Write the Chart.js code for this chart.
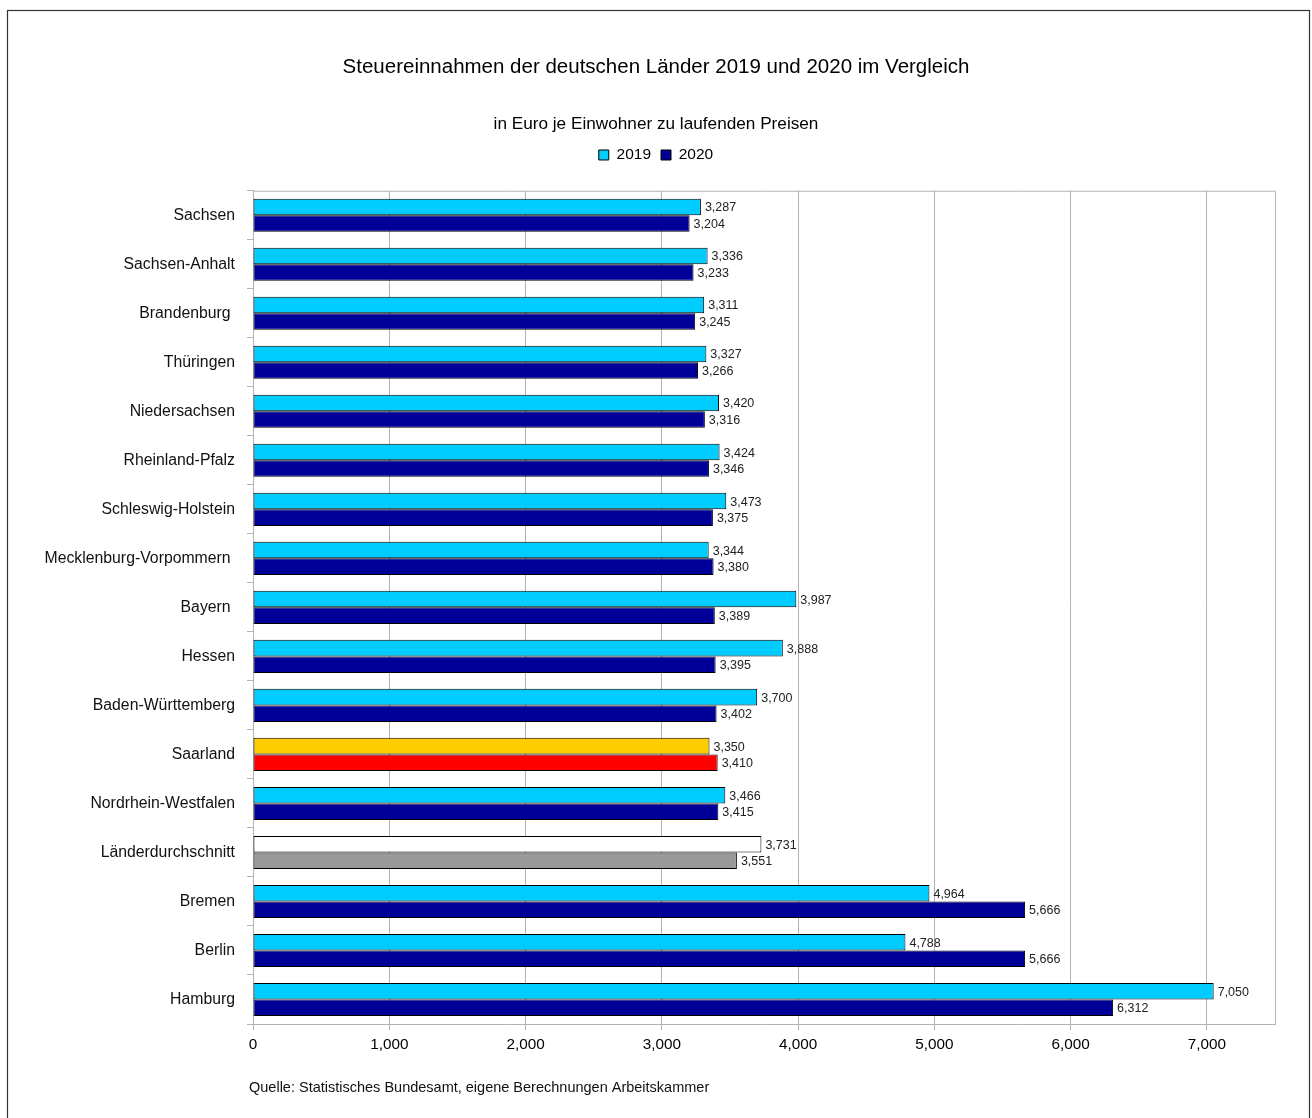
<!DOCTYPE html>
<html>
<head>
<meta charset="utf-8">
<script src="https://cdn.jsdelivr.net/npm/chart.js@4.4.1/dist/chart.umd.min.js"></script>
<style>
  html, body { margin: 0; padding: 0; background: #ffffff; }
  #wrap { width: 1312px; height: 1118px; position: relative; }
</style>
</head>
<body>
<div id="wrap"><canvas id="c" width="1312" height="1118"></canvas></div>
<script>
// ---- data ----
const titleText = 'Steuereinnahmen der deutschen Länder 2019 und 2020 im Vergleich';
const subtitleText = 'in Euro je Einwohner zu laufenden Preisen';
const sourceText = 'Quelle: Statistisches Bundesamt, eigene Berechnungen Arbeitskammer';
const seriesNames = ['2019', '2020'];
const categories = ['Sachsen', 'Sachsen-Anhalt', 'Brandenburg ', 'Thüringen', 'Niedersachsen',
  'Rheinland-Pfalz', 'Schleswig-Holstein', 'Mecklenburg-Vorpommern ', 'Bayern ', 'Hessen',
  'Baden-Württemberg', 'Saarland', 'Nordrhein-Westfalen', 'Länderdurchschnitt',
  'Bremen', 'Berlin', 'Hamburg'];
const values2019 = [3287, 3336, 3311, 3327, 3420, 3424, 3473, 3344, 3987, 3888, 3700, 3350, 3466, 3731, 4964, 4788, 7050];
const values2020 = [3204, 3233, 3245, 3266, 3316, 3346, 3375, 3380, 3389, 3395, 3402, 3410, 3415, 3551, 5666, 5666, 6312];
const xTickValues = [0, 1000, 2000, 3000, 4000, 5000, 6000, 7000];

// ---- styles ----
const FONT = '"Liberation Sans", Arial, Helvetica, sans-serif';
const baseColors = ['#00CCFF', '#000099'];
const highlightColors = {
  'Saarland': ['#FFCC00', '#FF0000'],
  'Länderdurchschnitt': ['#FFFFFF', '#999999']
};
function barColor(seriesIdx) {
  return (ctx) => {
    if (ctx.type === 'data') {
      const name = categories[ctx.dataIndex].trim();
      if (highlightColors[name]) return highlightColors[name][seriesIdx];
    }
    return baseColors[seriesIdx];
  };
}

const GRID = '#b3b3b3';

const valueLabels = {
  id: 'valueLabels',
  afterDatasetsDraw(chart) {
    const ctx = chart.ctx;
    ctx.save();
    ctx.font = '12.5px ' + FONT;
    ctx.fillStyle = '#222222';
    ctx.textBaseline = 'middle';
    ctx.textAlign = 'left';
    chart.data.datasets.forEach((ds, di) => {
      const meta = chart.getDatasetMeta(di);
      meta.data.forEach((bar, i) => {
        const v = ds.data[i];
        ctx.fillText(v.toLocaleString('en-US'), bar.x + 4, bar.y + 1);
      });
    });
    ctx.restore();
  }
};

const frame = {
  id: 'frame',
  beforeDatasetsDraw(chart) {
    const {left, right, top, bottom} = chart.chartArea;
    const ctx = chart.ctx;
    ctx.save();
    ctx.strokeStyle = GRID;
    ctx.lineWidth = 1;
    ctx.beginPath();
    ctx.moveTo(left, top + 0.5);
    ctx.lineTo(Math.round(right) + 0.5, top + 0.5);
    ctx.lineTo(Math.round(right) + 0.5, bottom);
    ctx.stroke();
    ctx.restore();
  },
  afterDraw(chart) {
    const ctx = chart.ctx;
    ctx.save();
    ctx.strokeStyle = '#333333';
    ctx.lineWidth = 1.2;
    ctx.strokeRect(7.5, 10.5, 1302, 1200);
    ctx.font = '14.5px ' + FONT;
    ctx.fillStyle = '#111111';
    ctx.textBaseline = 'middle';
    ctx.textAlign = 'left';
    ctx.fillText(sourceText, 249, 1088);
    ctx.restore();
  }
};

Chart.defaults.font.family = FONT;
Chart.defaults.color = '#111111';

new Chart(document.getElementById('c'), {
  type: 'bar',
  data: {
    labels: categories,
    datasets: [
      { label: seriesNames[0], data: values2019, backgroundColor: barColor(0),
        borderColor: '#000000', borderWidth: 1, borderSkipped: false,
        categoryPercentage: 0.675, barPercentage: 1.0 },
      { label: seriesNames[1], data: values2020, backgroundColor: barColor(1),
        borderColor: '#000000', borderWidth: 1, borderSkipped: false,
        categoryPercentage: 0.675, barPercentage: 1.0 }
    ]
  },
  options: {
    indexAxis: 'y',
    responsive: false,
    animation: false,
    events: [],
    layout: { padding: { left: 37, right: 37, top: 0, bottom: 64 } },
    plugins: {
      title: {
        display: true, text: titleText, color: '#000000',
        font: { size: 20.5, weight: 'normal', family: FONT },
        padding: { top: 55, bottom: 0 }
      },
      subtitle: {
        display: true, text: subtitleText, color: '#000000',
        font: { size: 17.2, weight: 'normal', family: FONT },
        padding: { top: 34, bottom: 3 }
      },
      legend: {
        display: true, position: 'top',
        labels: {
          boxWidth: 10, boxHeight: 10, padding: 10, color: '#000000',
          font: { size: 15.5, family: FONT }
        }
      },
      tooltip: { enabled: false }
    },
    scales: {
      x: {
        type: 'linear', position: 'bottom', min: 0, max: 7500,
        grid: { color: GRID, lineWidth: 1, drawTicks: true, tickLength: 6, tickColor: GRID },
        border: { display: true, color: GRID, width: 1 },
        afterBuildTicks(scale) { scale.ticks = xTickValues.map(v => ({ value: v })); },
        ticks: {
          padding: 6, color: '#000000', font: { size: 15.3, family: FONT },
          callback: (v) => Number(v).toLocaleString('en-US')
        },
        afterFit(scale) { scale.height = 30; }
      },
      xSpacer: {
        type: 'linear', axis: 'x', position: 'top', display: true,
        grid: { display: false }, border: { display: false },
        ticks: { display: false },
        afterFit(scale) { scale.height = 18; }
      },
      y: {
        type: 'category', position: 'left',
        grid: { display: true, drawOnChartArea: false, drawTicks: true, tickLength: 6, color: GRID, offset: true },
        border: { display: true, color: GRID, width: 1 },
        ticks: { padding: 12, color: '#111111', font: { size: 15.8, family: FONT }, autoSkip: false },
        afterFit(scale) { scale.width = 216; }
      }
    }
  },
  plugins: [valueLabels, frame]
});
</script>
</body>
</html>
